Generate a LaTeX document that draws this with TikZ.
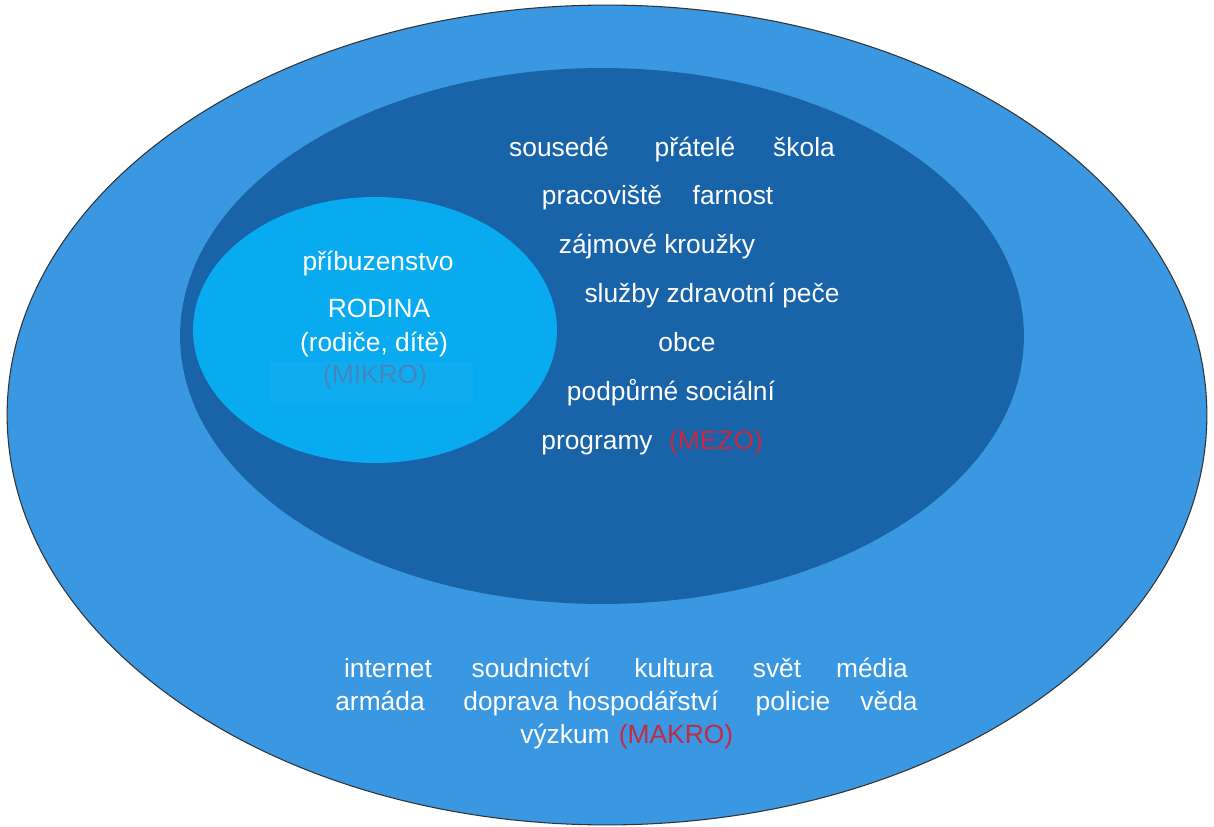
\documentclass[tikz,border=0pt]{standalone}
\usepackage{fontspec}
\setmainfont{Liberation Sans}
\usetikzlibrary{shapes.geometric}
\definecolor{makroblue}{RGB}{58,151,226}
\definecolor{mezoblue}{RGB}{25,99,169}
\definecolor{mikroblue}{RGB}{8,170,240}
\definecolor{levelred}{RGB}{196,42,66}
\tikzset{
  ring/.style={ellipse,inner sep=0pt},
  word/.style={text=white,anchor=base,inner sep=0pt,font=\fontsize{15}{18}\selectfont},
  level/.style={word,text=levelred}
}
\begin{document}
\begin{tikzpicture}[x=0.02cm,y=-0.02cm]
\useasboundingbox (0,0) rectangle (1214,827);
\node[ring,fill=makroblue,draw=black!80,line width=0.6pt,minimum width=24cm,minimum height=16.4cm] (makro) at (607,415) {};
\node[ring,fill=mezoblue,minimum width=16.88cm,minimum height=10.72cm] (mezo) at (602,336) {};
\node[ring,fill=mikroblue,minimum width=7.28cm,minimum height=5.32cm] (mikro) at (375,330) {};
\fill[mikroblue!97!white] (270,362) rectangle (473,403);

\node[word] (pribuz) at (378,271) {příbuzenstvo};
\node[word] (rodina) at (379,318) {RODINA};
\node[word] (rodice) at (374,352) {(rodiče, dítě)};
\node[level,text opacity=0.3] (mikrotxt) at (375,384) {(MIKRO)};

\node[word] (sousede) at (559,157) {sousedé};
\node[word] (pratele) at (695,157) {přátelé};
\node[word] (skola) at (804,157) {škola};
\node[word] (pracoviste) at (602,205) {pracoviště};
\node[word] (farnost) at (733,205) {farnost};
\node[word] (krouzky) at (657,254) {zájmové kroužky};
\node[word] (sluzby) at (712,303) {služby zdravotní peče};
\node[word] (obce) at (687,352) {obce};
\node[word] (podporne) at (671,401) {podpůrné sociální};
\node[word] (programy) at (597,450) {programy};
\node[level] (mezotxt) at (716,450) {(MEZO)};

\node[word] (internet) at (388,677) {internet};
\node[word] (soudnictvi) at (531,677) {soudnictví};
\node[word] (kultura) at (674,677) {kultura};
\node[word] (svet) at (777,677) {svět};
\node[word] (media) at (872,677) {média};
\node[word] (armada) at (380,710) {armáda};
\node[word] (doprava) at (511,710) {doprava};
\node[word] (hospodarstvi) at (643,710) {hospodářství};
\node[word] (policie) at (793,710) {policie};
\node[word] (veda) at (889,710) {věda};
\node[word] (vyzkum) at (565,743) {výzkum};
\node[level] (makrotxt) at (676,743) {(MAKRO)};
\end{tikzpicture}
\end{document}
